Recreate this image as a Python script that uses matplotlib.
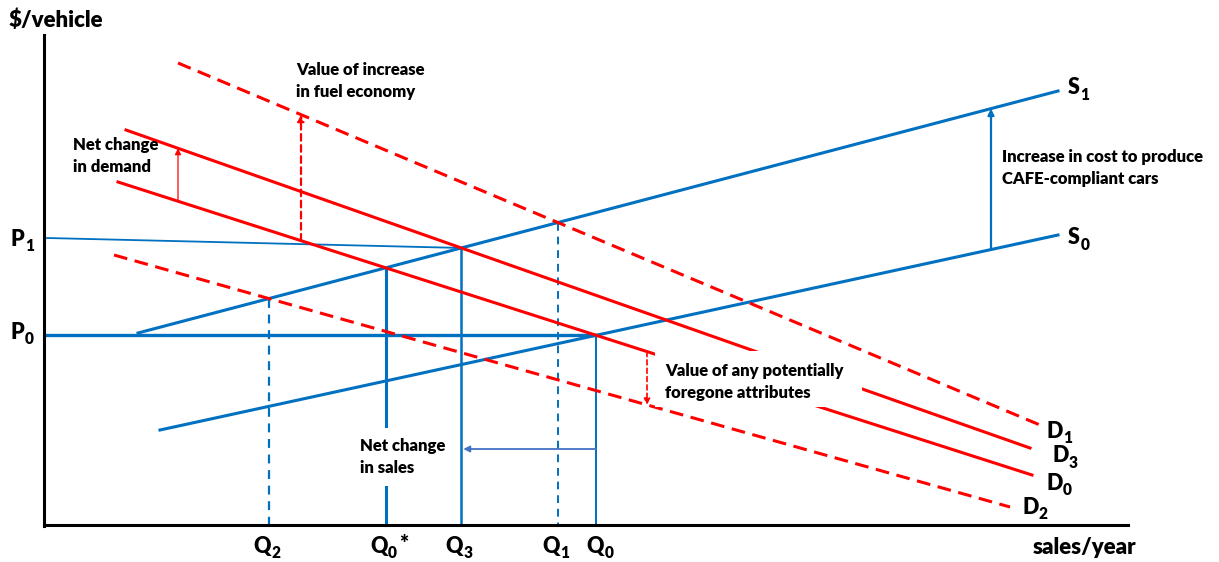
import matplotlib
matplotlib.use("Agg")
import matplotlib.pyplot as plt
from matplotlib.patches import Rectangle

plt.rcParams['font.family'] = ['Lato', 'DejaVu Sans']

BLUE = '#0070C0'
RED = '#FF0000'
WEIGHT = 'heavy'

# Curves, as endpoints in diagram units (x = sales, y = price drawn downwards)
S1 = [(138, 333), (1058, 91)]
S0 = [(160, 430), (1058, 235)]
D1 = [(178, 63), (1040, 425)]
D3 = [(126, 130), (1030, 448)]
D0 = [(118, 182), (1032, 475)]
D2 = [(114, 255), (1010, 507)]

curve_labels = [
    ('S', '1', 1068, 88),
    ('S', '0', 1068, 238),
    ('D', '1', 1046, 431),
    ('D', '3', 1052, 456),
    ('D', '0', 1046, 483),
    ('D', '2', 1022, 507),
]

AXIS_X = 44
AXIS_Y = 525
AXIS_TOP = 35
AXIS_RIGHT = 1128
P1_START = (47, 238)


def y_at(line, x):
    (x0, y0), (x1, y1) = line
    return y0 + (y1 - y0) * (x - x0) / (x1 - x0)


def cross(a, b):
    (ax0, ay0), (ax1, ay1) = a
    (bx0, by0), (bx1, by1) = b
    ma = (ay1 - ay0) / (ax1 - ax0)
    mb = (by1 - by0) / (bx1 - bx0)
    x = (by0 - ay0 + ma * ax0 - mb * bx0) / (ma - mb)
    return x, ay0 + ma * (x - ax0)


def sub_label(ax, x, y, main, sub, ha='left', extra=''):
    """Bold letter with a subscript, e.g. P_1."""
    size = 15.5
    if ha == 'center':
        x = x - 7
    t = ax.text(x, y, main, fontsize=size, fontweight=WEIGHT, ha='left' if ha == 'left' else 'center',
                va='center')
    s = ax.annotate(sub, xy=(1, 0), xycoords=t, xytext=(0.3, -3), textcoords='offset points',
                    fontsize=size * 0.72, fontweight=WEIGHT, ha='left', va='bottom')
    if extra:
        ax.annotate(extra, xy=(1, 1), xycoords=(s, t), xytext=(1.5, 1), textcoords='offset points',
                    fontsize=size, fontweight=WEIGHT, ha='left', va='top')


fig = plt.figure(figsize=(12.19, 5.62), dpi=100, facecolor='white')
ax = fig.add_axes([0, 0, 1, 1])
ax.set_xlim(0, 1219)
ax.set_ylim(562, 0)
ax.axis('off')

# axes of the diagram
ax.plot([AXIS_X, AXIS_X], [AXIS_TOP, AXIS_Y + 1], color='black', lw=2.2, zorder=5)
ax.plot([AXIS_X, AXIS_RIGHT], [AXIS_Y, AXIS_Y], color='black', lw=2.2, zorder=5)

# supply and demand curves
for line in (S1, S0):
    ax.plot(*zip(*line), color=BLUE, lw=2.2, zorder=3)
for line in (D3, D0):
    ax.plot(*zip(*line), color=RED, lw=2.2, zorder=3)
for line in (D1, D2):
    ax.plot(*zip(*line), color=RED, lw=2.2, dashes=(4.5, 2.5), zorder=3)

for main, sub, x, y in curve_labels:
    sub_label(ax, x, y, main, sub)

# equilibria
q2 = cross(S1, D2)
q0s = cross(S1, D0)
q3 = cross(S1, D3)
q1 = cross(S1, D1)
q0 = cross(S0, D0)

ax.plot([q2[0], q2[0]], [q2[1], AXIS_Y], color=BLUE, lw=1.6, dashes=(4, 3), zorder=2)
ax.plot([q1[0], q1[0]], [q1[1], AXIS_Y], color=BLUE, lw=1.4, dashes=(4, 3), zorder=2)
ax.plot([q0s[0], q0s[0]], [q0s[1], AXIS_Y], color=BLUE, lw=2.2, zorder=2)
ax.plot([q3[0], q3[0]], [q3[1], AXIS_Y], color=BLUE, lw=1.8, zorder=2)
ax.plot([q0[0], q0[0]], [q0[1], AXIS_Y], color=BLUE, lw=1.4, zorder=2)

# price lines
ax.plot([P1_START[0], q3[0]], [P1_START[1], q3[1]], color=BLUE, lw=1.3, zorder=2)
ax.plot([AXIS_X + 3, q0[0]], [q0[1], q0[1]], color=BLUE, lw=2.4, zorder=2)

sub_label(ax, 11, P1_START[1] + 1, 'P', '1')
sub_label(ax, 11, q0[1] - 3, 'P', '0')

q_labels = [(q2[0], '2', ''), (q0s[0], '0', '*'), (q3[0], '3', ''),
            (q1[0], '1', ''), (q0[0] + 6, '0', '')]
for x, sub, extra in q_labels:
    sub_label(ax, x, 546, 'Q', sub, ha='center', extra=extra)

ax.text(9, 20, '$/vehicle', fontsize=16, fontweight=WEIGHT, ha='left', va='center')
ax.text(1033, 547, 'sales/year', fontsize=16, fontweight=WEIGHT, ha='left', va='center')

# arrows
arr = dict(arrowstyle='-|>', mutation_scale=9, shrinkA=0, shrinkB=0)
x = 178
ax.annotate('', xy=(x, y_at(D3, x)), xytext=(x, y_at(D0, x)),
            arrowprops=dict(arr, color=RED, lw=0.9), zorder=4)
x = 301
ax.annotate('', xy=(x, y_at(D1, x)), xytext=(x, y_at(D0, x)),
            arrowprops=dict(arr, color=RED, lw=1.6, linestyle=(0, (3, 2))), zorder=4)
x = 647
ax.annotate('', xy=(x, y_at(D2, x)), xytext=(x, y_at(D0, x)),
            arrowprops=dict(arr, color=RED, lw=1.2, linestyle=(0, (3, 2))), zorder=4)
x = 991
ax.annotate('', xy=(x, y_at(S1, x)), xytext=(x, y_at(S0, x)),
            arrowprops=dict(arr, color=BLUE, lw=1.6), zorder=4)
ax.annotate('', xy=(q3[0] + 2, 449), xytext=(q0[0], 449),
            arrowprops=dict(arr, color='#4472C4', lw=1.3), zorder=4)

# white boxes behind annotations
ax.add_patch(Rectangle((655, 351), 207, 56, facecolor='white', edgecolor='none', zorder=3.5))
ax.add_patch(Rectangle((355, 428), 104, 58, facecolor='white', edgecolor='none', zorder=3.5))

note = dict(fontsize=12, fontweight=WEIGHT, ha='left', va='center', linespacing=1.4, zorder=6)
ax.text(73, 156, 'Net change\nin demand', **note)
ax.text(296, 81, 'Value of increase\nin fuel economy', **note)
ax.text(1002, 168, 'Increase in cost to produce\nCAFE-compliant cars', **note)
ax.text(665, 382, 'Value of any potentially\nforegone attributes', **note)
ax.text(360, 457, 'Net change\nin sales', **note)

fig.savefig('out.png', dpi=100, facecolor='white')
